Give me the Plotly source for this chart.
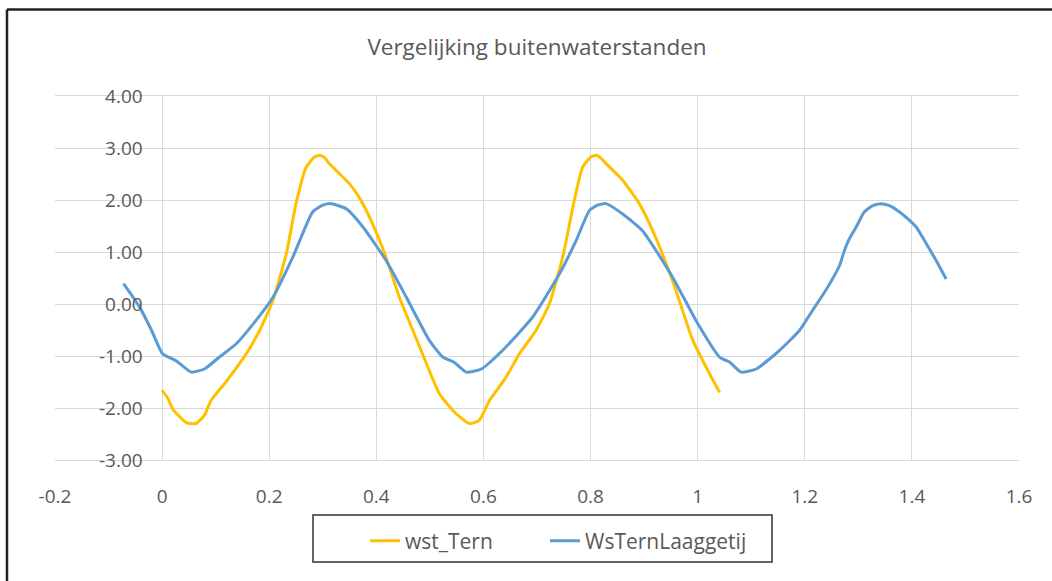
import plotly.graph_objects as go

# Water level series (time in days, level in m)
tern_x = [0.000, 0.010, 0.020, 0.045, 0.063, 0.079, 0.091, 0.119, 0.157, 0.182,
          0.207, 0.232, 0.250, 0.269, 0.285, 0.295, 0.304, 0.312, 0.350, 0.368,
          0.393, 0.418, 0.443, 0.480, 0.518, 0.549, 0.574, 0.592, 0.611, 0.642,
          0.667, 0.698, 0.723, 0.748, 0.767, 0.785, 0.801, 0.811, 0.820, 0.829,
          0.860, 0.891, 0.916, 0.953, 0.991, 1.016, 1.041]
tern_y = [-1.66, -1.80, -2.02, -2.28, -2.30, -2.14, -1.86, -1.50, -0.96, -0.51,
          0.07, 0.97, 1.93, 2.63, 2.83, 2.86, 2.81, 2.70, 2.31, 2.05,
          1.54, 0.90, 0.13, -0.80, -1.73, -2.11, -2.30, -2.24, -1.86, -1.41,
          -0.96, -0.51, 0.00, 0.90, 1.86, 2.63, 2.83, 2.86, 2.80, 2.70,
          2.38, 1.93, 1.41, 0.45, -0.70, -1.22, -1.70]

laag_x = [-0.072, -0.042, -0.020, 0.001, 0.026, 0.054, 0.079, 0.107, 0.138, 0.175,
          0.207, 0.244, 0.281, 0.300, 0.316, 0.344, 0.375, 0.418, 0.456, 0.499,
          0.524, 0.545, 0.568, 0.596, 0.636, 0.692, 0.742, 0.773, 0.798, 0.813,
          0.829, 0.860, 0.897, 0.953, 0.997, 1.041, 1.060, 1.081, 1.109, 1.153,
          1.190, 1.214, 1.239, 1.265, 1.274, 1.283, 1.296, 1.311, 1.327, 1.342,
          1.358, 1.377, 1.392, 1.408, 1.427, 1.445, 1.464]
laag_y = [0.39, -0.06, -0.50, -0.96, -1.09, -1.31, -1.25, -1.02, -0.77, -0.32,
          0.13, 0.90, 1.77, 1.90, 1.93, 1.83, 1.48, 0.84, 0.13, -0.70,
          -1.02, -1.12, -1.31, -1.25, -0.89, -0.25, 0.58, 1.22, 1.80, 1.90,
          1.93, 1.73, 1.41, 0.52, -0.32, -1.02, -1.12, -1.31, -1.25, -0.89,
          -0.51, -0.13, 0.26, 0.74, 1.03, 1.25, 1.48, 1.77, 1.89, 1.93,
          1.89, 1.77, 1.64, 1.48, 1.16, 0.84, 0.48]

x_ticks = [-0.2, 0, 0.2, 0.4, 0.6, 0.8, 1, 1.2, 1.4, 1.6]
x_tick_text = ["-0.2", "0", "0.2", "0.4", "0.6", "0.8", "1", "1.2", "1.4", "1.6"]
y_ticks = [-3, -2, -1, 0, 1, 2, 3, 4]
y_tick_text = ["-3.00", "-2.00", "-1.00", "0.00", "1.00", "2.00", "3.00", "4.00"]

TEXT = "#595959"
GRID = "#d9d9d9"
FONT = "Open Sans"

# plot area in pixels: left 55, right 1019, top 96, bottom 460
PW, PH = 964, 364


def px_x(p):
    return (p - 55) / PW


def px_y(p):
    return (460 - p) / PH


def legend_at(px):
    return dict(orientation="h", x=px_x(px), xanchor="left", y=px_y(541), yanchor="middle",
                font=dict(size=21, color=TEXT), bgcolor="rgba(0,0,0,0)")


fig = go.Figure()
fig.add_trace(go.Scatter(x=tern_x, y=tern_y, mode="lines", name="wst_Tern",
                         legend="legend", showlegend=True,
                         line=dict(color="#FFC000", width=3, shape="spline", smoothing=0.5)))
fig.add_trace(go.Scatter(x=laag_x, y=laag_y, mode="lines", name="WsTernLaaggetij",
                         legend="legend2", showlegend=True,
                         line=dict(color="#5B9BD5", width=3, shape="spline", smoothing=0.5)))

fig.update_layout(
    width=1052, height=581,
    margin=dict(l=55, r=33, t=96, b=121),
    paper_bgcolor="white", plot_bgcolor="white",
    font=dict(family=FONT, color=TEXT),
    title=dict(text="Vergelijking buitenwaterstanden", x=0.5, xref="paper",
               y=1 - 47 / 581, yref="container", yanchor="middle",
               font=dict(size=22.5, color=TEXT, family=FONT)),
    xaxis=dict(range=[-0.2, 1.6], tickvals=x_ticks, ticktext=x_tick_text,
               showgrid=True, gridcolor=GRID, gridwidth=1, zeroline=False,
               showline=True, linecolor=GRID, mirror=True, ticks="",
               ticklabelstandoff=19, tickfont=dict(size=19, color=TEXT)),
    yaxis=dict(range=[-3, 4], tickvals=y_ticks, ticktext=y_tick_text,
               showgrid=True, gridcolor=GRID, gridwidth=1, zeroline=False,
               showline=False, ticks="", anchor="free", position=px_x(162.7),
               ticklabelstandoff=20, tickfont=dict(size=19, color=TEXT)),
    legend=legend_at(365),
    legend2=legend_at(545),
    shapes=[
        # legend frame
        dict(type="rect", xref="paper", yref="paper", x0=px_x(313), x1=px_x(772),
             y0=px_y(562), y1=px_y(515), line=dict(color="#333333", width=1.5)),
        # outer chart frame (top and left edges)
        dict(type="line", xref="paper", yref="paper", x0=px_x(7), x1=1.2,
             y0=px_y(9.5), y1=px_y(9.5), line=dict(color="#222222", width=2.5)),
        dict(type="line", xref="paper", yref="paper", x0=px_x(7), x1=px_x(7),
             y0=px_y(9.5), y1=px_y(600), line=dict(color="#222222", width=2.5)),
    ],
)

fig.write_html("out.html")
